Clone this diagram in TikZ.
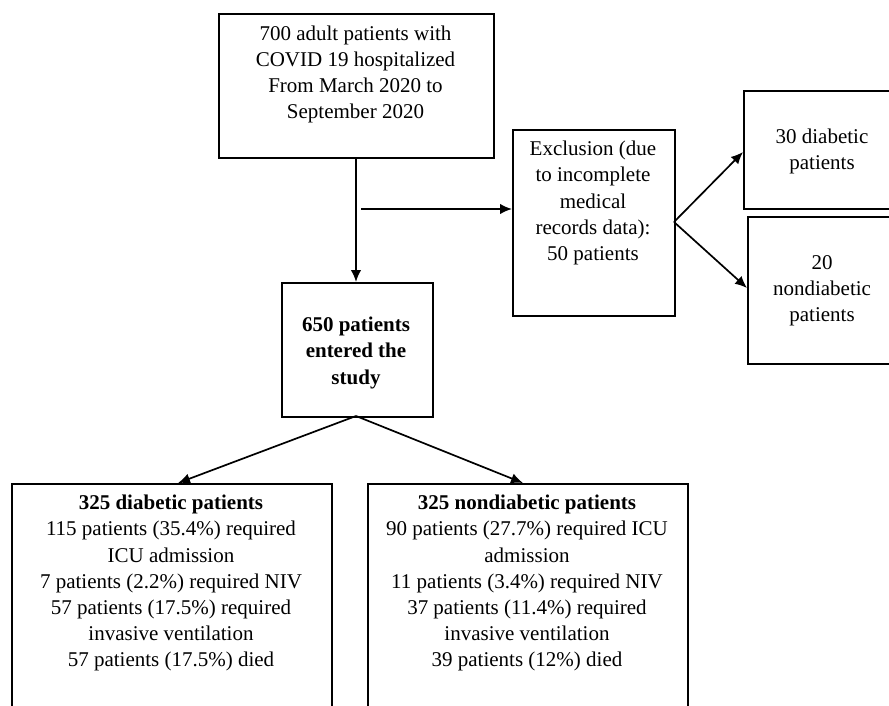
\documentclass[tikz,border=0pt]{standalone}
\usepackage{fontspec}
\setmainfont{Liberation Serif}
\usetikzlibrary{arrows.meta}
\tikzset{
  box/.style={draw=black, line width=1.7pt, rectangle, inner sep=0pt, anchor=north west},
  txt/.style={align=center, inner sep=0pt, anchor=north, font=\fontsize{21}{26.2}\selectfont},
  arr/.style={line width=1.7pt, -{Latex[length=12pt,width=10.5pt]}}
}
\begin{document}
\begin{tikzpicture}[x=1pt,y=-1pt]
\useasboundingbox (0,0) rectangle (889,706);
\clip (0,0) rectangle (889,706);
% boxes
\node[box, minimum width=275pt, minimum height=144pt] (top) at (218,13) {};
\node[box, minimum width=162pt, minimum height=186pt] (excl) at (512,129) {};
\node[box, minimum width=160pt, minimum height=118pt] (dia30) at (743,90) {};
\node[box, minimum width=155pt, minimum height=147pt] (non20) at (747,216) {};
\node[box, minimum width=151pt, minimum height=134pt] (enter) at (281,282) {};
\node[box, minimum width=320pt, minimum height=240pt] (dia) at (11,483) {};
\node[box, minimum width=320pt, minimum height=240pt] (non) at (367,483) {};
% texts
\node[txt] (ttop) at (355.5,25.5) {700 adult patients with\\COVID 19 hospitalized\\From March 2020 to\\September 2020};
\node[txt] (texcl) at (593,141) {Exclusion (due\\to incomplete\\medical\\records data):\\50 patients};
\node[txt] (tdia30) at (822,129) {30 diabetic\\patients};
\node[txt] (tnon20) at (822,255) {20\\nondiabetic\\patients};
\node[txt, font=\fontsize{21}{26.2}\selectfont\bfseries] (tenter) at (356,317) {650 patients\\entered the\\study};
\node[txt] (tdia) at (171,495) {\textbf{325 diabetic patients}\\115 patients (35.4\%) required\\ICU admission\\7 patients (2.2\%) required NIV\\57 patients (17.5\%) required\\invasive ventilation\\57 patients (17.5\%) died};
\node[txt] (tnon) at (527,495) {\textbf{325 nondiabetic patients}\\90 patients (27.7\%) required ICU\\admission\\11 patients (3.4\%) required NIV\\37 patients (11.4\%) required\\invasive ventilation\\39 patients (12\%) died};
% connectors
\coordinate (eb) at (356,416);
\coordinate (j) at (361,209);
\draw[arr] (top.south -| eb) -- (enter.north -| eb);
\draw[arr] (j) -- (excl.west |- j);
\coordinate (eo) at (674,222);
\draw[arr] (eo) -- (dia30.west |- 0,152);
\draw[arr] (eo) -- (non20.west |- 0,288);
\draw[arr] (eb) -- (178,483);
\draw[arr] (eb) -- (523,483);
\end{tikzpicture}
\end{document}
